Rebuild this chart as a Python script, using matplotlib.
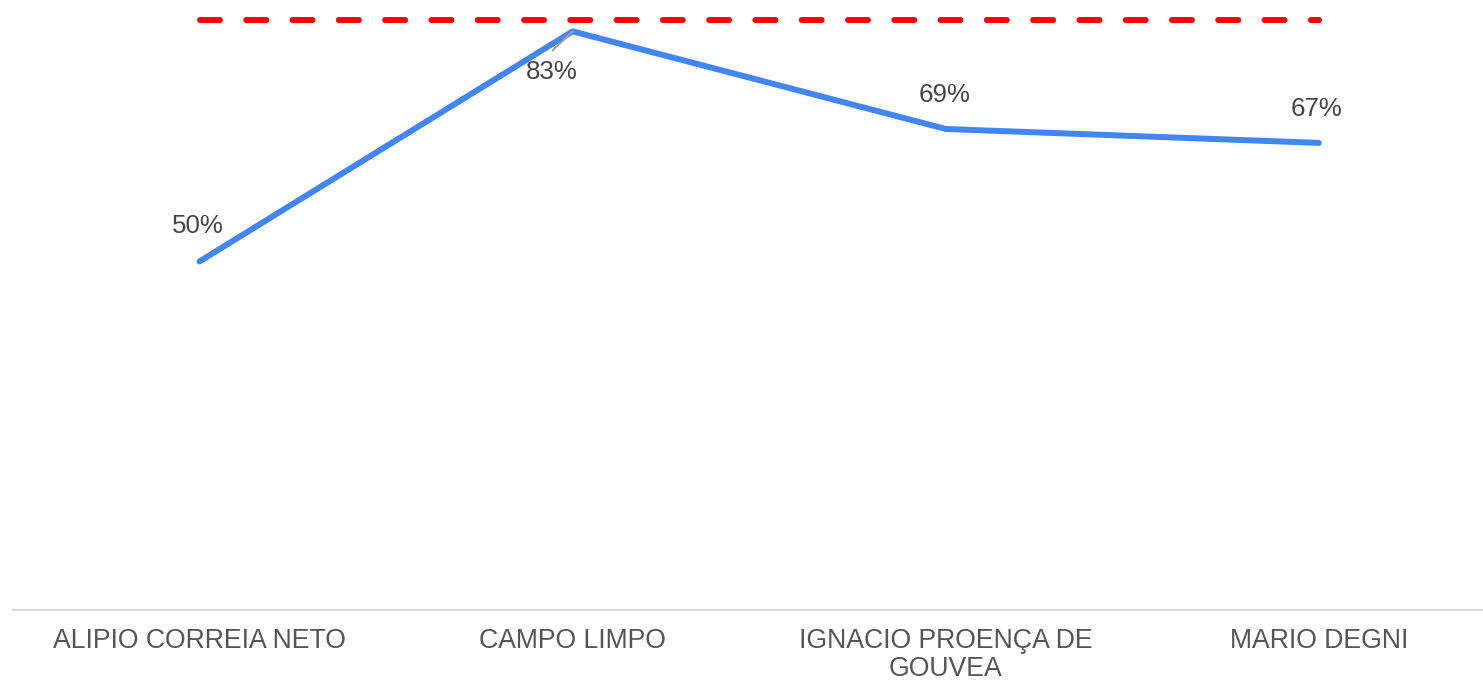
import matplotlib
matplotlib.use("Agg")
import matplotlib.pyplot as plt

categories = ["ALIPIO CORREIA NETO", "CAMPO LIMPO", "IGNACIO PROENÇA DE\nGOUVEA", "MARIO DEGNI"]
values = [50, 83, 69, 67]
target = [84.6, 84.6, 84.6, 84.6]
labels = ["50%", "83%", "69%", "67%"]

plt.rcParams['font.family'] = ['Liberation Sans', 'DejaVu Sans']

fig = plt.figure(figsize=(14.83, 6.82), dpi=100)
ax = fig.add_axes([13/1483, 72/682, 1 - 13/1483, 610/682])

x = list(range(len(categories)))
ax.plot(x, target, color='#ff0000', lw=4.3, ls=(0, (3.35, 4.4)), dash_capstyle='round', solid_capstyle='round', zorder=2)
ax.plot(x, values, color='#4285f4', lw=4.3, solid_capstyle='round', zorder=3)

offsets = [(-2, 35), (-21, -41), (-1, 34), (-2, 34)]
for xi, v, lab, off in zip(x, values, labels, offsets):
    ax.annotate(lab, (xi, v), xytext=off, textcoords='offset pixels',
                ha='center', va='center', fontsize=18.6, color='#444444', zorder=4)
# leader line for the label placed below the peak
ax.annotate('', xy=(1, values[1]), xytext=(-20, -19), textcoords='offset pixels',
            xycoords='data', arrowprops=dict(arrowstyle='-', color='#a0a0a0', lw=1.5,
                                             shrinkA=0, shrinkB=0), zorder=5)

ax.set_xlim(-0.5, 3.44)
ax.set_ylim(0, 87.5)
ax.set_yticks([])
ax.set_xticks(x)
ax.set_xticklabels(categories, fontsize=19.2, color='#555555', linespacing=1.12)
ax.tick_params(axis='x', length=0, pad=13)
for s in ['top', 'right', 'left']:
    ax.spines[s].set_visible(False)
ax.spines['bottom'].set_color('#d9d9d9')
ax.spines['bottom'].set_linewidth(1.5)

fig.savefig('out.png', dpi=100)
